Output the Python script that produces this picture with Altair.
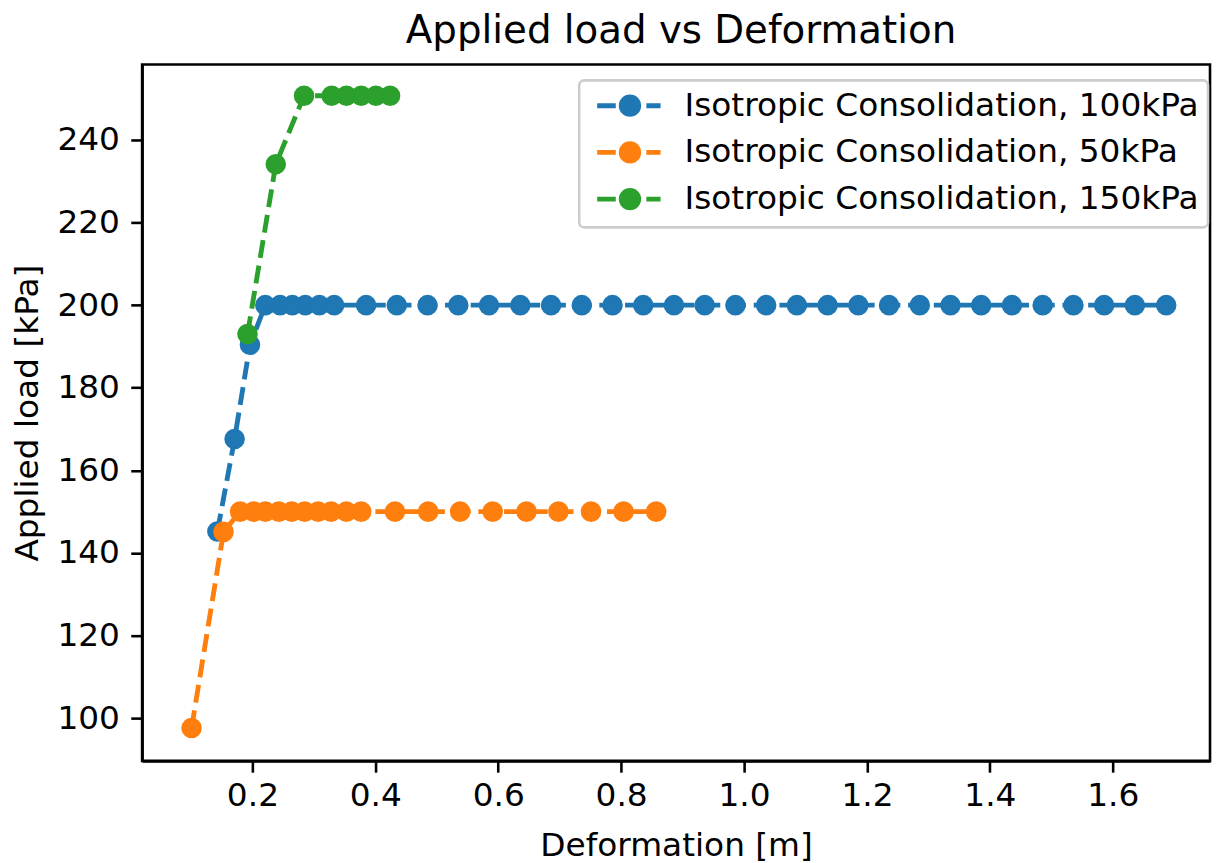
import altair as alt
import pandas as pd

series_names = [
    "Isotropic Consolidation, 100kPa",
    "Isotropic Consolidation, 50kPa",
    "Isotropic Consolidation, 150kPa",
]
series_colors = ["#1f77b4", "#ff7f0e", "#2ca02c"]

blue_x = [0.143, 0.171, 0.196, 0.221, 0.245, 0.265, 0.286, 0.309, 0.333,
          0.385, 0.435, 0.485, 0.535, 0.585, 0.636, 0.686, 0.736, 0.786, 0.836,
          0.886, 0.936, 0.986, 1.036, 1.086, 1.136, 1.186, 1.236, 1.286, 1.336,
          1.386, 1.436, 1.486, 1.536, 1.586, 1.636, 1.687]
blue_y = [145.2, 167.6, 190.4, 200, 200, 200, 200, 200, 200,
          200, 200, 200, 200, 200, 200, 200, 200, 200, 200,
          200, 200, 200, 200, 200, 200, 200, 200, 200, 200,
          200, 200, 200, 200, 200, 200, 200]

orange_x = [0.101, 0.153, 0.180, 0.202, 0.221, 0.243, 0.264, 0.285, 0.307, 0.328,
            0.353, 0.377, 0.432, 0.486, 0.538, 0.591, 0.646, 0.698, 0.751, 0.804, 0.857]
orange_y = [97.6, 145.1, 150, 150, 150, 150, 150, 150, 150, 150,
            150, 150, 150, 150, 150, 150, 150, 150, 150, 150, 150]

green_x = [0.192, 0.238, 0.284, 0.329, 0.353, 0.377, 0.401, 0.424]
green_y = [193.0, 234.1, 250.7, 250.7, 250.7, 250.7, 250.7, 250.7]

x_ticks = [0.2, 0.4, 0.6, 0.8, 1.0, 1.2, 1.4, 1.6]
y_ticks = [100, 120, 140, 160, 180, 200, 220, 240]

rows = []
for name, xs, ys in zip(series_names, [blue_x, orange_x, green_x], [blue_y, orange_y, green_y]):
    for i, (xv, yv) in enumerate(zip(xs, ys)):
        rows.append({"series": name, "idx": i, "x": xv, "y": yv})
df = pd.DataFrame(rows)

FONT = "DejaVu Sans"
x_scale = alt.Scale(domain=[0.0205, 1.7583], nice=False, zero=False)
y_scale = alt.Scale(domain=[89.66, 258.28], nice=False, zero=False)
color_scale = alt.Scale(domain=series_names, range=series_colors)

x_enc = alt.X("x:Q", scale=x_scale,
              axis=alt.Axis(title="Deformation [m]", values=x_ticks, format=".1f",
                            labelPadding=8, titlePadding=17))
y_enc = alt.Y("y:Q", scale=y_scale,
              axis=alt.Axis(title="Applied load [kPa]", values=y_ticks, format="d",
                            labelPadding=11.4, titlePadding=13))

legend_path = "M-3,0L-1.3,0M1.5,0L2.8,0M-0.8,0A0.8,0.8,0,1,0,0.8,0A0.8,0.8,0,1,0,-0.8,0Z"
legend = alt.Legend(
    title=None, orient="none", legendX=440, legendY=16,
    symbolType=legend_path, symbolSize=484, symbolStrokeWidth=4.9,
    symbolOffset=25.6, labelOffset=38.4,
    labelFontSize=33, labelFont=FONT, labelColor="black", labelLimit=0,
    padding=9, rowPadding=8,
    fillColor="rgba(255,255,255,0.8)", strokeColor="#cccccc", cornerRadius=5,
)

base = alt.Chart(df)
layers = []
for name, col in zip(series_names, series_colors):
    sub = base.transform_filter(alt.datum.series == name)
    line = sub.mark_line(strokeWidth=4.9, strokeDash=[18.1, 7.8], color=col).encode(
        x=x_enc, y=y_enc, order=alt.Order("idx:Q"))
    pts = sub.mark_point(filled=True, opacity=1, size=350, strokeWidth=2).encode(
        x=x_enc, y=y_enc,
        fill=alt.Fill("series:N", scale=color_scale, legend=legend),
        stroke=alt.Stroke("series:N", scale=color_scale, legend=legend),
    )
    layers += [line, pts]

chart = alt.layer(*layers).properties(
    width=1075, height=701,
    autosize=alt.AutoSizeParams(type="none"),
    padding={"left": 135, "top": 54, "right": 2, "bottom": 100},
    title=alt.Title("Applied load vs Deformation", fontSize=39, font=FONT,
                    fontWeight="normal", color="black", offset=17,
                    baseline="alphabetic", dy=34, dx=5),
    background="white",
).configure_view(stroke="black", strokeWidth=2.6).configure_axis(
    domainColor="black", domainWidth=2.6, tickColor="black", tickWidth=2.6,
    tickSize=11.4, labelFontSize=33, labelFont=FONT, labelColor="black",
    titleFontSize=33, titleFont=FONT, titleFontWeight="normal",
    titleColor="black", grid=False,
).configure_legend(strokeWidth=2.6)

chart.save("out.html", embed_options={"renderer": "svg", "actions": False})
